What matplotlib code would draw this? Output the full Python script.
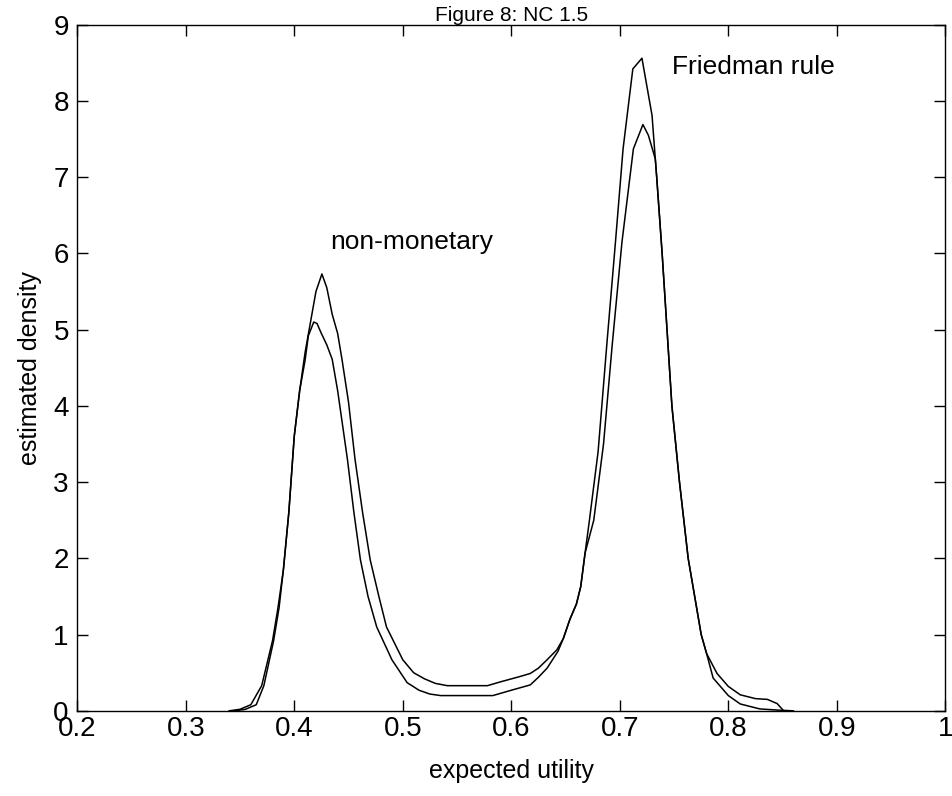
import numpy as np
import matplotlib
matplotlib.use("Agg")
import matplotlib.pyplot as plt

# Curve with the taller left peak / lower right peak
x_a = [0.340, 0.350, 0.360, 0.370, 0.380, 0.385, 0.390, 0.395, 0.400, 0.405, 0.410,
       0.416, 0.420, 0.4255, 0.430, 0.435, 0.440, 0.444, 0.450, 0.456, 0.463, 0.470,
       0.478, 0.485, 0.500, 0.510, 0.520, 0.530, 0.541, 0.560, 0.578, 0.590, 0.608,
       0.6175, 0.625, 0.633, 0.642, 0.648, 0.654, 0.660, 0.664, 0.668, 0.672, 0.680,
       0.688, 0.696, 0.703, 0.712, 0.7204, 0.7297, 0.7327, 0.734, 0.739, 0.748, 0.755,
       0.763, 0.769, 0.775, 0.780, 0.7896, 0.800, 0.811, 0.825, 0.836, 0.845, 0.851]
y_a = [0.00, 0.02, 0.08, 0.33, 0.92, 1.35, 1.85, 2.60, 3.60, 4.20, 4.70,
       5.18, 5.50, 5.73, 5.55, 5.20, 4.95, 4.61, 4.05, 3.30, 2.60, 1.98,
       1.50, 1.10, 0.67, 0.50, 0.42, 0.36, 0.33, 0.33, 0.33, 0.38, 0.45,
       0.49, 0.56, 0.67, 0.80, 0.95, 1.20, 1.40, 1.63, 2.07, 2.50, 3.40,
       4.80, 6.15, 7.37, 8.42, 8.56, 7.81, 7.24, 7.00, 6.00, 4.00, 3.00,
       2.00, 1.50, 1.00, 0.75, 0.49, 0.32, 0.21, 0.16, 0.15, 0.095, 0.00]

# Curve with the lower left peak / taller right peak
x_b = [0.345, 0.355, 0.365, 0.372, 0.381, 0.386, 0.390, 0.395, 0.400, 0.405, 0.410,
       0.413, 0.418, 0.421, 0.425, 0.430, 0.435, 0.440, 0.449, 0.455, 0.461, 0.468,
       0.476, 0.490, 0.504, 0.515, 0.525, 0.535, 0.560, 0.583, 0.600, 0.6175, 0.625,
       0.633, 0.643, 0.648, 0.654, 0.660, 0.664, 0.668, 0.676, 0.685, 0.693, 0.702,
       0.7125, 0.7213, 0.7263, 0.7327, 0.734, 0.739, 0.748, 0.755, 0.763, 0.769,
       0.775, 0.780, 0.786, 0.800, 0.811, 0.829, 0.845, 0.860]
y_b = [0.00, 0.02, 0.08, 0.33, 0.92, 1.35, 1.85, 2.60, 3.60, 4.20, 4.60,
       4.92, 5.10, 5.08, 4.95, 4.80, 4.61, 4.20, 3.30, 2.60, 1.98, 1.50,
       1.10, 0.67, 0.37, 0.27, 0.22, 0.20, 0.20, 0.20, 0.27, 0.34, 0.44,
       0.56, 0.78, 0.95, 1.20, 1.40, 1.63, 2.07, 2.50, 3.50, 4.80, 6.15,
       7.37, 7.69, 7.55, 7.24, 7.00, 6.00, 4.00, 3.00, 2.00, 1.50,
       1.00, 0.75, 0.43, 0.20, 0.09, 0.025, 0.01, 0.00]

x_ticks = [0.2, 0.3, 0.4, 0.5, 0.6, 0.7, 0.8, 0.9, 1.0]
x_labels = ["0.2", "0.3", "0.4", "0.5", "0.6", "0.7", "0.8", "0.9", "1"]
y_ticks = [0, 1, 2, 3, 4, 5, 6, 7, 8, 9]

plt.rcParams['font.family'] = ['Liberation Sans', 'DejaVu Sans']

fig = plt.figure(figsize=(9.53, 7.96), dpi=100)
ax = fig.add_axes([0.081, 0.107, 0.911, 0.862])

ax.plot(x_a, y_a, color="black", linewidth=1.1)
ax.plot(x_b, y_b, color="black", linewidth=1.1)

ax.text(0.433, 6.15, "non-monetary", fontsize=19, va="center", ha="left")
ax.text(0.748, 8.45, "Friedman rule", fontsize=19, va="center", ha="left")

ax.set_xlim(0.2, 1.0)
ax.set_ylim(0, 9)
ax.set_xticks(x_ticks)
ax.set_xticklabels(x_labels)
ax.set_yticks(y_ticks)
ax.tick_params(direction="in", length=8, width=1, top=True, right=True,
               labelsize=20, pad=4)
ax.tick_params(axis="y", pad=6)
for s in ax.spines.values():
    s.set_linewidth(1)

ax.set_xlabel("expected utility", fontsize=18, labelpad=12)
ax.set_ylabel("estimated density", fontsize=18, labelpad=8)
ax.set_title("Figure 8: NC 1.5", fontsize=15, pad=3)

fig.savefig("out.png", dpi=100)
